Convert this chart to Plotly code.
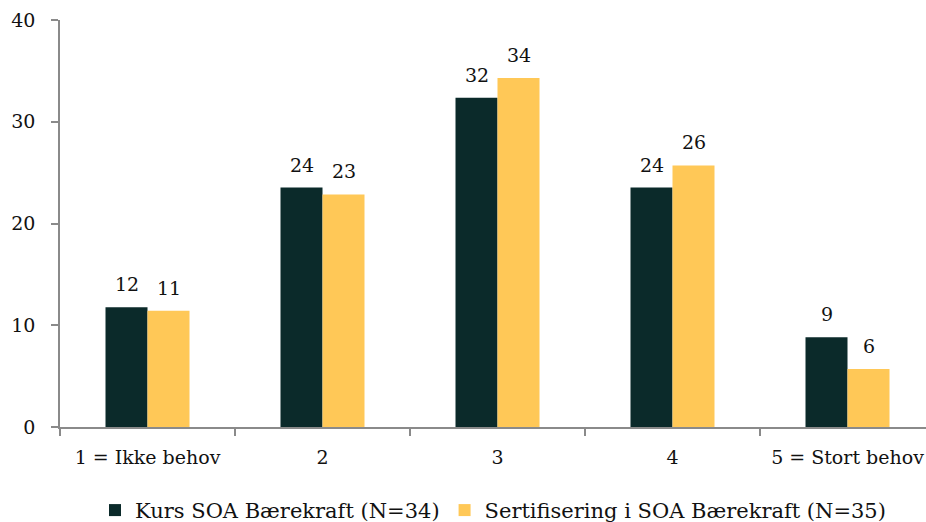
import plotly.graph_objects as go

categories = ["1 = Ikke behov", "2", "3", "4", "5 = Stort behov"]
kurs_values = [11.76, 23.53, 32.35, 23.53, 8.82]        # Kurs SOA Bærekraft, N=34 (%)
sert_values = [11.43, 22.86, 34.29, 25.71, 5.71]        # Sertifisering i SOA Bærekraft, N=35 (%)
series_names = ["Kurs SOA Bærekraft (N=34)", "Sertifisering i SOA Bærekraft (N=35)"]
y_ticks = [0, 10, 20, 30, 40]

DARK = "#0b2a2a"
YELLOW = "#ffc857"
AXIS = "#8a8a8a"
FONT = "DejaVu Serif"

fig = go.Figure()
series = [(series_names[0], kurs_values, DARK, -21), (series_names[1], sert_values, YELLOW, 21)]
for name, vals, col, dx in series:
    fig.add_trace(go.Bar(
        x=categories, y=vals, name=name, marker=dict(color=col, line=dict(width=0)),
    ))
    # value labels above each bar, rounded to whole percent
    for i, v in enumerate(vals):
        fig.add_annotation(
            x=i, y=v, xref="x", yref="y", text=f"{v:.0f}", showarrow=False,
            xshift=dx, yshift=10, yanchor="bottom",
            font=dict(family=FONT, size=19, color="#111"),
        )

fig.update_layout(
    width=926, height=522,
    margin=dict(l=60, r=0, t=20, b=95, autoexpand=False),
    paper_bgcolor="white", plot_bgcolor="white",
    barmode="group", bargap=0.52, bargroupgap=0,
    font=dict(family=FONT, size=19, color="#111"),
    legend=dict(orientation="h", x=0.5, xanchor="center", y=-0.205, yanchor="middle",
                font=dict(family=FONT, size=21), itemwidth=30, traceorder="normal"),
    showlegend=True,
)
fig.update_xaxes(
    range=[-0.5, 4.5 - 9 / 175], showline=True, linecolor=AXIS, linewidth=1.5,
    ticks="outside", tickson="boundaries", ticklen=7, tickcolor=AXIS, tickwidth=1.5,
    showgrid=False, tickfont=dict(family=FONT, size=19), ticklabelstandoff=12,
)
fig.update_yaxes(
    range=[0, 40], tickvals=y_ticks, showline=True, linecolor=AXIS, linewidth=1.5,
    ticks="outside", ticklen=7, tickcolor=AXIS, tickwidth=1.5,
    showgrid=False, zeroline=False, tickfont=dict(family=FONT, size=19), ticklabelstandoff=12,
)

fig.write_html("out.html")
